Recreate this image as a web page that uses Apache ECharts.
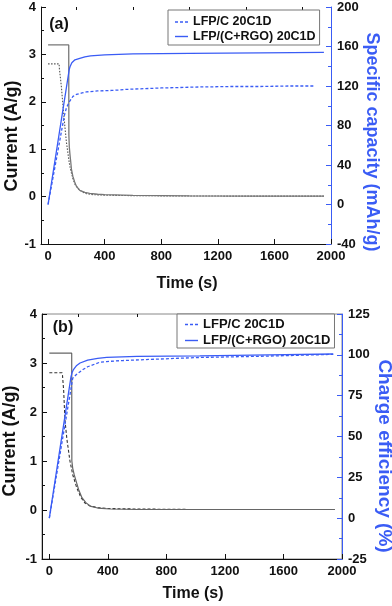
<!DOCTYPE html>
<html><head><meta charset="utf-8">
<script src="https://cdn.jsdelivr.net/npm/echarts@6/dist/echarts.min.js"></script>
<style>html,body{margin:0;padding:0;background:#fff}#c{width:392px;height:606px}</style>
</head><body><div id="c"></div>
<script>
const FONT = "'Liberation Sans', Arial, sans-serif";
const xTicks = [0, 400, 800, 1200, 1600, 2000];
const xMinorTicks = [200, 600, 1000, 1400, 1800];
const legendNames = ['LFP/C 20C1D', 'LFP/(C+RGO) 20C1D'];

// ---- Panel (a) ----
const tA_curC = [0, 78, 80, 94, 106, 118, 130, 142, 153, 165, 176, 190, 212, 240, 271, 320, 400, 600, 1000, 1500, 1950];
const vA_curC = [2.8, 2.8, 2.7, 2.32, 1.9, 1.5, 1.14, 0.88, 0.65, 0.5, 0.375, 0.26, 0.17, 0.1, 0.06, 0.04, 0.03, 0.02, 0.012, 0.01, 0.01];
const tA_curR = [0, 146, 147, 150, 155, 160, 165, 175, 188, 200, 224, 260, 294, 350, 400, 600, 1000, 1500, 1950];
const vA_curR = [3.2, 3.2, 1.3, 1.05, 0.88, 0.74, 0.58, 0.43, 0.31, 0.22, 0.13, 0.09, 0.07, 0.05, 0.04, 0.025, 0.015, 0.01, 0.01];
const tA_capC = [0, 115, 130, 150, 176, 200, 240, 271, 350, 450, 506, 540, 553, 800, 1070, 1300, 1500, 1700, 1882];
const vA_capC = [0, 90, 98, 104, 109.5, 111.5, 113, 114, 115, 115.5, 116, 116.5, 117.5, 118, 119, 119.5, 119.5, 120, 120];
const tA_capR = [0, 150, 155, 160, 168, 176, 190, 200, 224, 260, 300, 400, 600, 1000, 1500, 1950];
const vA_capR = [0, 137, 139.5, 141.5, 143.5, 145, 146.5, 147, 148, 149.5, 150.5, 151.5, 152.5, 153, 153.5, 154];

// ---- Panel (b) ----
const tB_curC = [0, 87, 90, 98, 107, 120, 141, 160, 187, 215, 244, 280, 330, 400, 600, 1000, 1950];
const vB_curC = [2.8, 2.8, 2.75, 2.44, 1.83, 1.45, 1.0, 0.72, 0.46, 0.26, 0.14, 0.08, 0.05, 0.03, 0.02, 0.01, 0.01];
const tB_curR = [0, 153, 154, 160, 170, 182, 200, 223, 250, 278, 330, 415, 600, 1000, 1950];
const vB_curR = [3.2, 3.2, 1.0, 0.85, 0.72, 0.6, 0.42, 0.25, 0.15, 0.08, 0.04, 0.02, 0.01, 0.01, 0.01];
const tB_effC = [0, 160, 170, 185, 198, 230, 262, 346, 392, 500, 689, 1029, 1484, 1940];
const vB_effC = [0, 85.7, 86.8, 88, 88.8, 91, 92.7, 95.5, 95.9, 96.5, 97.2, 98.4, 99.2, 100.3];
const tB_effR = [0, 148, 155, 165, 175, 187, 210, 262, 330, 392, 600, 1029, 1500, 1940];
const vB_effR = [0, 86.5, 89, 91, 92, 93.5, 95, 96.8, 97.8, 98.5, 99, 99.4, 100, 100.5];

const zip = (t, v) => t.map((x, i) => [x, v[i]]);
const BLUE = '#3a5cf5';
const lbl = {fontFamily: FONT, fontWeight: 'bold', fontSize: 13, color: '#111', formatter: v => String(v)};
const DASH_ICON = 'path://M0,0h3v1.4h-3zM5,0h3v1.4h-3zM10,0h3v1.4h-3z';
const SOLID_ICON = 'path://M0,0h13v1.4h-13z';

function xAxes(grid) {
  return [
    {type: 'value', gridIndex: grid, min: -50, max: 2000,
     axisLine: {show: true, onZero: false, lineStyle: {color: '#111', width: 1}},
     axisTick: {show: true, inside: true, length: 5, customValues: xTicks, lineStyle: {color: '#111'}},
     axisLabel: Object.assign({customValues: xTicks, margin: 6}, lbl),
     splitLine: {show: false}},
    {type: 'value', gridIndex: grid, min: -50, max: 2000,
     axisLine: {show: false, onZero: false},
     axisTick: {show: true, inside: true, length: 3, customValues: xMinorTicks, lineStyle: {color: '#111'}},
     axisLabel: {show: false}, splitLine: {show: false}}
  ];
}
function yLeft(grid) {
  return {type: 'value', gridIndex: grid, position: 'left', min: -1, max: 4, interval: 1,
    axisLine: {show: true, onZero: false, lineStyle: {color: '#111'}},
    axisTick: {show: true, inside: true, length: 5, lineStyle: {color: '#111'}},
    minorTick: {show: true, splitNumber: 2, length: 3, lineStyle: {color: '#111'}},
    axisLabel: Object.assign({margin: 5}, lbl), splitLine: {show: false}};
}
function yRight(grid, min, max, interval) {
  return {type: 'value', gridIndex: grid, position: 'right', min: min, max: max, interval: interval,
    axisLine: {show: true, onZero: false, lineStyle: {color: BLUE, width: 1}},
    axisTick: {show: true, inside: true, length: 5, lineStyle: {color: BLUE}},
    minorTick: {show: true, splitNumber: 2, length: 3, lineStyle: {color: BLUE}},
    axisLabel: Object.assign({margin: 6}, lbl), splitLine: {show: false}};
}
function line(name, data, xi, yi, color, type, width) {
  return {type: 'line', name: name, data: data, xAxisIndex: xi, yAxisIndex: yi,
    symbol: 'none', showSymbol: false, smooth: false, silent: true,
    lineStyle: {color: color, type: type, width: width}, itemStyle: {color: color}};
}
function legend(left, top, pad, gap, fs) {
  return {show: true, orient: 'vertical', left: left, top: top,
    data: [{name: legendNames[0], icon: DASH_ICON}, {name: legendNames[1], icon: SOLID_ICON}],
    padding: pad, itemGap: gap, itemWidth: 13, itemHeight: 1.4,
    borderColor: '#777', borderWidth: 1, borderRadius: 0, backgroundColor: '#fff',
    textStyle: {fontFamily: FONT, fontWeight: 'bold', fontSize: fs, color: '#111'},
    selectedMode: false};
}
function txt(x, y, s, size, rot, color) {
  return {type: 'text', x: x, y: y, rotation: rot || 0, silent: true,
    style: {text: s, fontFamily: FONT, fontWeight: 'bold', fontSize: size, fill: color || '#111',
      align: 'center', verticalAlign: 'middle'}};
}

const chart = echarts.init(document.getElementById('c'), null, {renderer: 'canvas'});
chart.setOption({
  animation: false,
  backgroundColor: '#fff',
  grid: [
    {left: 41, top: 7, width: 290, height: 237, show: false},
    {left: 42, top: 314, width: 300, height: 245, show: true, borderColor: '#888', borderWidth: 1, backgroundColor: 'transparent'}
  ],
  xAxis: [].concat(xAxes(0), xAxes(1)),
  yAxis: [yLeft(0), yRight(0, -40, 200, 40), yLeft(1), yRight(1, -25, 125, 25)],
  legend: [legend(168, 10, [5.5, 4, 2, 7], 1.5, 12.5), legend(177, 314, [4, 4, 1, 8], 3, 13)],
  series: [
    line('LFP/C current (a)', zip(tA_curC, vA_curC), 0, 0, '#555', [1.5, 1.5], 1.1),
    line('LFP/(C+RGO) current (a)', zip(tA_curR, vA_curR), 0, 0, '#777', 'solid', 1.3),
    line(legendNames[0], zip(tA_capC, vA_capC), 0, 1, BLUE, [3, 2], 1.3),
    line(legendNames[1], zip(tA_capR, vA_capR), 0, 1, BLUE, 'solid', 1.3),
    line('LFP/C current (b)', zip(tB_curC, vB_curC), 2, 2, '#333', [3, 2], 1.1),
    line('LFP/(C+RGO) current (b)', zip(tB_curR, vB_curR), 2, 2, '#666', 'solid', 1.2),
    line(legendNames[0], zip(tB_effC, vB_effC), 2, 3, BLUE, [3, 2], 1.3),
    line(legendNames[1], zip(tB_effR, vB_effR), 2, 3, BLUE, 'solid', 1.3)
  ],
  graphic: [
    txt(59, 25, '(a)', 16),
    txt(63, 328, '(b)', 16),
    txt(12, 136, 'Current (A/g)', 18, Math.PI / 2),
    txt(10, 441, 'Current (A/g)', 18, Math.PI / 2),
    txt(372, 142, 'Specific capacity (mAh/g)', 18, -Math.PI / 2, BLUE),
    txt(384, 456, 'Charge efficiency (%)', 19, -Math.PI / 2, BLUE),
    txt(187, 284, 'Time (s)', 16),
    txt(193, 594, 'Time (s)', 16)
  ]
});
</script></body></html>
